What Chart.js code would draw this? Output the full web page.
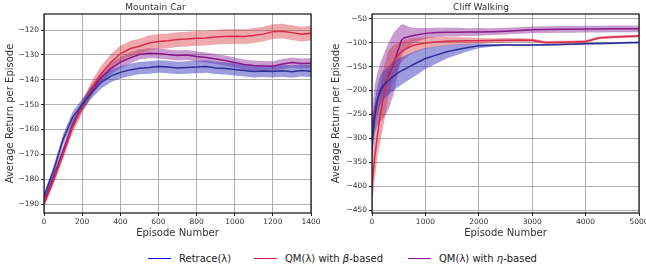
<!DOCTYPE html>
<html>
<head>
<meta charset="utf-8">
<script src="https://cdn.jsdelivr.net/npm/chart.js@4.4.1/dist/chart.umd.min.js"></script>
<style>
  body { margin: 0; width: 646px; height: 269px; overflow: hidden; background: #fff; font-family: "DejaVu Sans", sans-serif; position: relative; }
  canvas { position: absolute; top: 0; }
  #mc { left: 0; }
  #cw { left: 323px; }
  .leg { position: absolute; top: 252px; font-size: 10px; color: #222; line-height: 14px; white-space: nowrap; }
  .leg span.ln { display: inline-block; width: 23px; height: 0; border-top: 1.6px solid; vertical-align: middle; margin-right: 8px; position: relative; top: -1px; }
</style>
</head>
<body>
<canvas id="mc" width="323" height="240"></canvas>
<canvas id="cw" width="335" height="240"></canvas>
<div class="leg" style="left:148px"><span class="ln" style="border-color:#0000ff"></span>Retrace(λ)</div>
<div class="leg" style="left:254px"><span class="ln" style="border-color:#dc143c"></span>QM(λ) with <i>β</i>-based</div>
<div class="leg" style="left:408px"><span class="ln" style="border-color:#9400a8"></span>QM(λ) with <i>η</i>-based</div>
<script>
// Mountain Car: episodes and mean returns
const mcEpisodes = [0, 50, 100, 150, 200, 250, 300, 350, 400, 450, 500, 550, 600, 650, 700,
  750, 800, 850, 900, 950, 1000, 1050, 1100, 1150, 1200, 1250, 1300, 1350, 1400];
const mcRetrace = [-187, -176.5, -164, -155, -150, -145, -141, -138.5, -137, -136, -135.3, -135, -134.6, -134.8, -135.2,
  -135, -134.8, -134.6, -135.2, -135.4, -135.8, -136.2, -136.6, -136.4, -136.6, -136.3, -136.7, -136.2, -136.5];
const mcBeta = [-190, -180.5, -170, -159, -151, -143.5, -137.5, -133, -129.5, -127.5, -126.5, -125.2, -124.6, -124.3, -123.8,
  -123.6, -123.3, -123.2, -122.8, -122.6, -122.5, -122.6, -122.2, -121.6, -120.6, -120.4, -121, -121.6, -121.2];
const mcEta = [-189, -179, -168.5, -158, -150.5, -144, -139, -135.5, -133, -131.2, -129.8, -129.3, -129.4, -129.8, -130.2,
  -130, -130.6, -131, -131.6, -132.2, -133, -133.8, -134.2, -134.4, -134.5, -133.6, -133, -133.4, -133.3];
// half-width of the shaded bands
const mcRetraceSpread = [1.5, 1.8, 2, 2.2, 2.3, 2.4, 2.5, 2.5, 2.5, 2.5, 2.5, 2.5, 2.5, 2.5, 2.5,
  2.5, 2.5, 2.5, 2.5, 2.5, 2.5, 2.5, 2.5, 2.5, 2.5, 2.5, 2.5, 2.5, 2.5];
const mcBetaSpread = [1.5, 1.8, 2, 2.3, 2.6, 3, 3.2, 3.3, 3.2, 3.1, 3, 3, 3, 3, 3,
  3, 3, 3, 3, 3, 3, 3, 3, 3, 3, 3, 3, 3, 3];
const mcEtaSpread = [1.5, 1.7, 1.8, 2, 2, 2.2, 2.2, 2.3, 2.3, 2.2, 2, 2, 2, 2, 2,
  2, 2, 2, 2, 2, 2, 2, 2, 2, 2, 2, 2, 2, 2];
const mcXTicks = [0, 200, 400, 600, 800, 1000, 1200, 1400];
const mcYTicks = [-190, -180, -170, -160, -150, -140, -130, -120];

// Cliff Walking
const cwEpisodes = [0, 25, 50, 100, 150, 200, 300, 400, 500, 550, 600, 700, 800, 1000, 1200, 1400,
  1600, 1800, 2000, 2250, 2500, 2750, 3000, 3250, 3500, 3750, 4000, 4250, 4500, 4750, 5000];
const cwRetrace = [-320, -285, -258, -222, -200, -190, -180, -170, -162, -159, -156, -150, -144, -133, -126, -119,
  -114, -110, -106.5, -105.5, -105, -105, -105, -104.5, -104, -103, -102, -101.5, -101, -100, -99.5];
const cwBeta = [-400, -370, -340, -295, -255, -222, -168, -140, -125, -119, -115, -109, -105, -100.5, -98.5, -97,
  -96.5, -96, -96, -95.5, -95, -94.5, -95, -99.5, -99, -98.5, -97.5, -90, -88, -87, -86];
const cwEta = [-300, -265, -240, -218, -205, -195, -172, -145, -112, -95, -90, -87, -84.5, -80.5, -78.5, -78,
  -78, -77.8, -77.5, -77, -76, -74.5, -73, -72.5, -72, -72, -71.5, -71.5, -71, -71, -71];
const cwRetraceSpread = [35, 35, 35, 30, 30, 30, 30, 30, 30, 29, 28, 27, 26, 22, 18, 14,
  11, 8, 5, 3, 2, 2, 2, 2, 2, 2, 2, 2, 2, 2, 2];
const cwBetaSpread = [40, 45, 45, 45, 55, 60, 50, 35, 25, 22, 20, 17, 15, 12, 10, 9,
  8, 7, 6, 5, 5, 4, 4, 3, 3, 3, 3, 3, 3, 3, 3];
const cwEtaSpread = [40, 45, 50, 55, 60, 65, 70, 65, 45, 33, 28, 20, 15, 11, 10, 9,
  9, 8, 8, 7, 7, 7, 7, 7, 7, 7, 7, 7, 7, 7, 7];
const cwXTicks = [0, 1000, 2000, 3000, 4000, 5000];
const cwYTicks = [-450, -400, -350, -300, -250, -200, -150, -100, -50];

const lineColors = ['#2e3192', '#d92a4a', '#8a1a8a'];
const bandColors = ['rgba(60,60,190,0.5)', 'rgba(215,50,60,0.42)', 'rgba(128,20,140,0.42)'];

function pts(xs, ys) {
  return xs.map((x, i) => ({ x: x, y: ys[i] }));
}

function buildDatasets(xs, means, spreads) {
  const lines = [];
  const bands = [];
  means.forEach((m, k) => {
    lines.push({ data: pts(xs, m), borderColor: lineColors[k], borderWidth: 1.5, pointRadius: 0, fill: false });
    const up = m.map((v, i) => v + spreads[k][i]);
    const lo = m.map((v, i) => v - spreads[k][i]);
    bands.push({ data: pts(xs, up), borderWidth: 0, pointRadius: 0, backgroundColor: bandColors[k], fill: '+1' });
    bands.push({ data: pts(xs, lo), borderWidth: 0, pointRadius: 0, fill: false });
  });
  // index 0 is drawn last, so the lines go first
  return lines.concat(bands);
}

const label = v => (v < 0 ? '\u2212' + Math.abs(v) : String(v));

// black box round the plot area
const frame = {
  id: 'frame',
  afterDatasetsDraw(chart) {
    const a = chart.chartArea, ctx = chart.ctx;
    ctx.save();
    ctx.strokeStyle = '#111';
    ctx.lineWidth = 1.2;
    ctx.strokeRect(a.left, a.top, a.right - a.left, a.bottom - a.top);
    ctx.restore();
  }
};

function makeChart(id, opts) {
  const font = size => ({ family: 'DejaVu Sans', size: size, weight: 'normal' });
  new Chart(document.getElementById(id), {
    type: 'line',
    data: { datasets: opts.datasets },
    plugins: [frame],
    options: {
      responsive: false,
      animation: false,
      layout: { padding: { right: opts.padRight } },
      plugins: {
        legend: { display: false },
        tooltip: { enabled: false },
        title: { display: true, text: opts.title, color: '#333', font: font(9), padding: { top: 2, bottom: 1.2 } }
      },
      scales: {
        x: {
          type: 'linear', min: opts.xMin, max: opts.xMax,
          afterFit(s) { s.height = 27; },
          afterBuildTicks(s) { s.ticks = opts.xTicks.map(v => ({ value: v })); },
          ticks: { color: '#333', font: font(7.5), padding: 2, maxRotation: 0, autoSkip: false, callback: label },
          grid: { color: '#b0b0b0', lineWidth: 1, tickLength: 3, tickColor: '#222' },
          border: { display: false },
          title: { display: true, text: 'Episode Number', color: '#333', font: font(10), padding: { top: 0, bottom: 1 } }
        },
        y: {
          type: 'linear', min: opts.yMin, max: opts.yMax,
          afterFit(s) { s.width = opts.yWidth; },
          afterBuildTicks(s) { s.ticks = opts.yTicks.map(v => ({ value: v })); },
          ticks: { color: '#333', font: font(7.5), padding: 2, autoSkip: false, callback: label },
          grid: { color: '#b0b0b0', lineWidth: 1, tickLength: 3, tickColor: '#222' },
          border: { display: false },
          title: { display: true, text: 'Average Return per Episode', color: '#333', font: font(10), padding: { top: opts.yTitlePad, bottom: 0 } }
        }
      }
    }
  });
}

makeChart('mc', {
  title: 'Mountain Car',
  datasets: buildDatasets(mcEpisodes, [mcRetrace, mcBeta, mcEta], [mcRetraceSpread, mcBetaSpread, mcEtaSpread]),
  xMin: 0, xMax: 1400, xTicks: mcXTicks,
  yMin: -193.6, yMax: -113.5, yTicks: mcYTicks,
  yWidth: 44, yTitlePad: 4, padRight: 12
});

makeChart('cw', {
  title: 'Cliff Walking',
  datasets: buildDatasets(cwEpisodes, [cwRetrace, cwBeta, cwEta], [cwRetraceSpread, cwBetaSpread, cwEtaSpread]),
  xMin: 0, xMax: 5000, xTicks: cwXTicks,
  yMin: -456, yMax: -40, yTicks: cwYTicks,
  yWidth: 49, yTitlePad: 7, padRight: 19
});
</script>
</body>
</html>
